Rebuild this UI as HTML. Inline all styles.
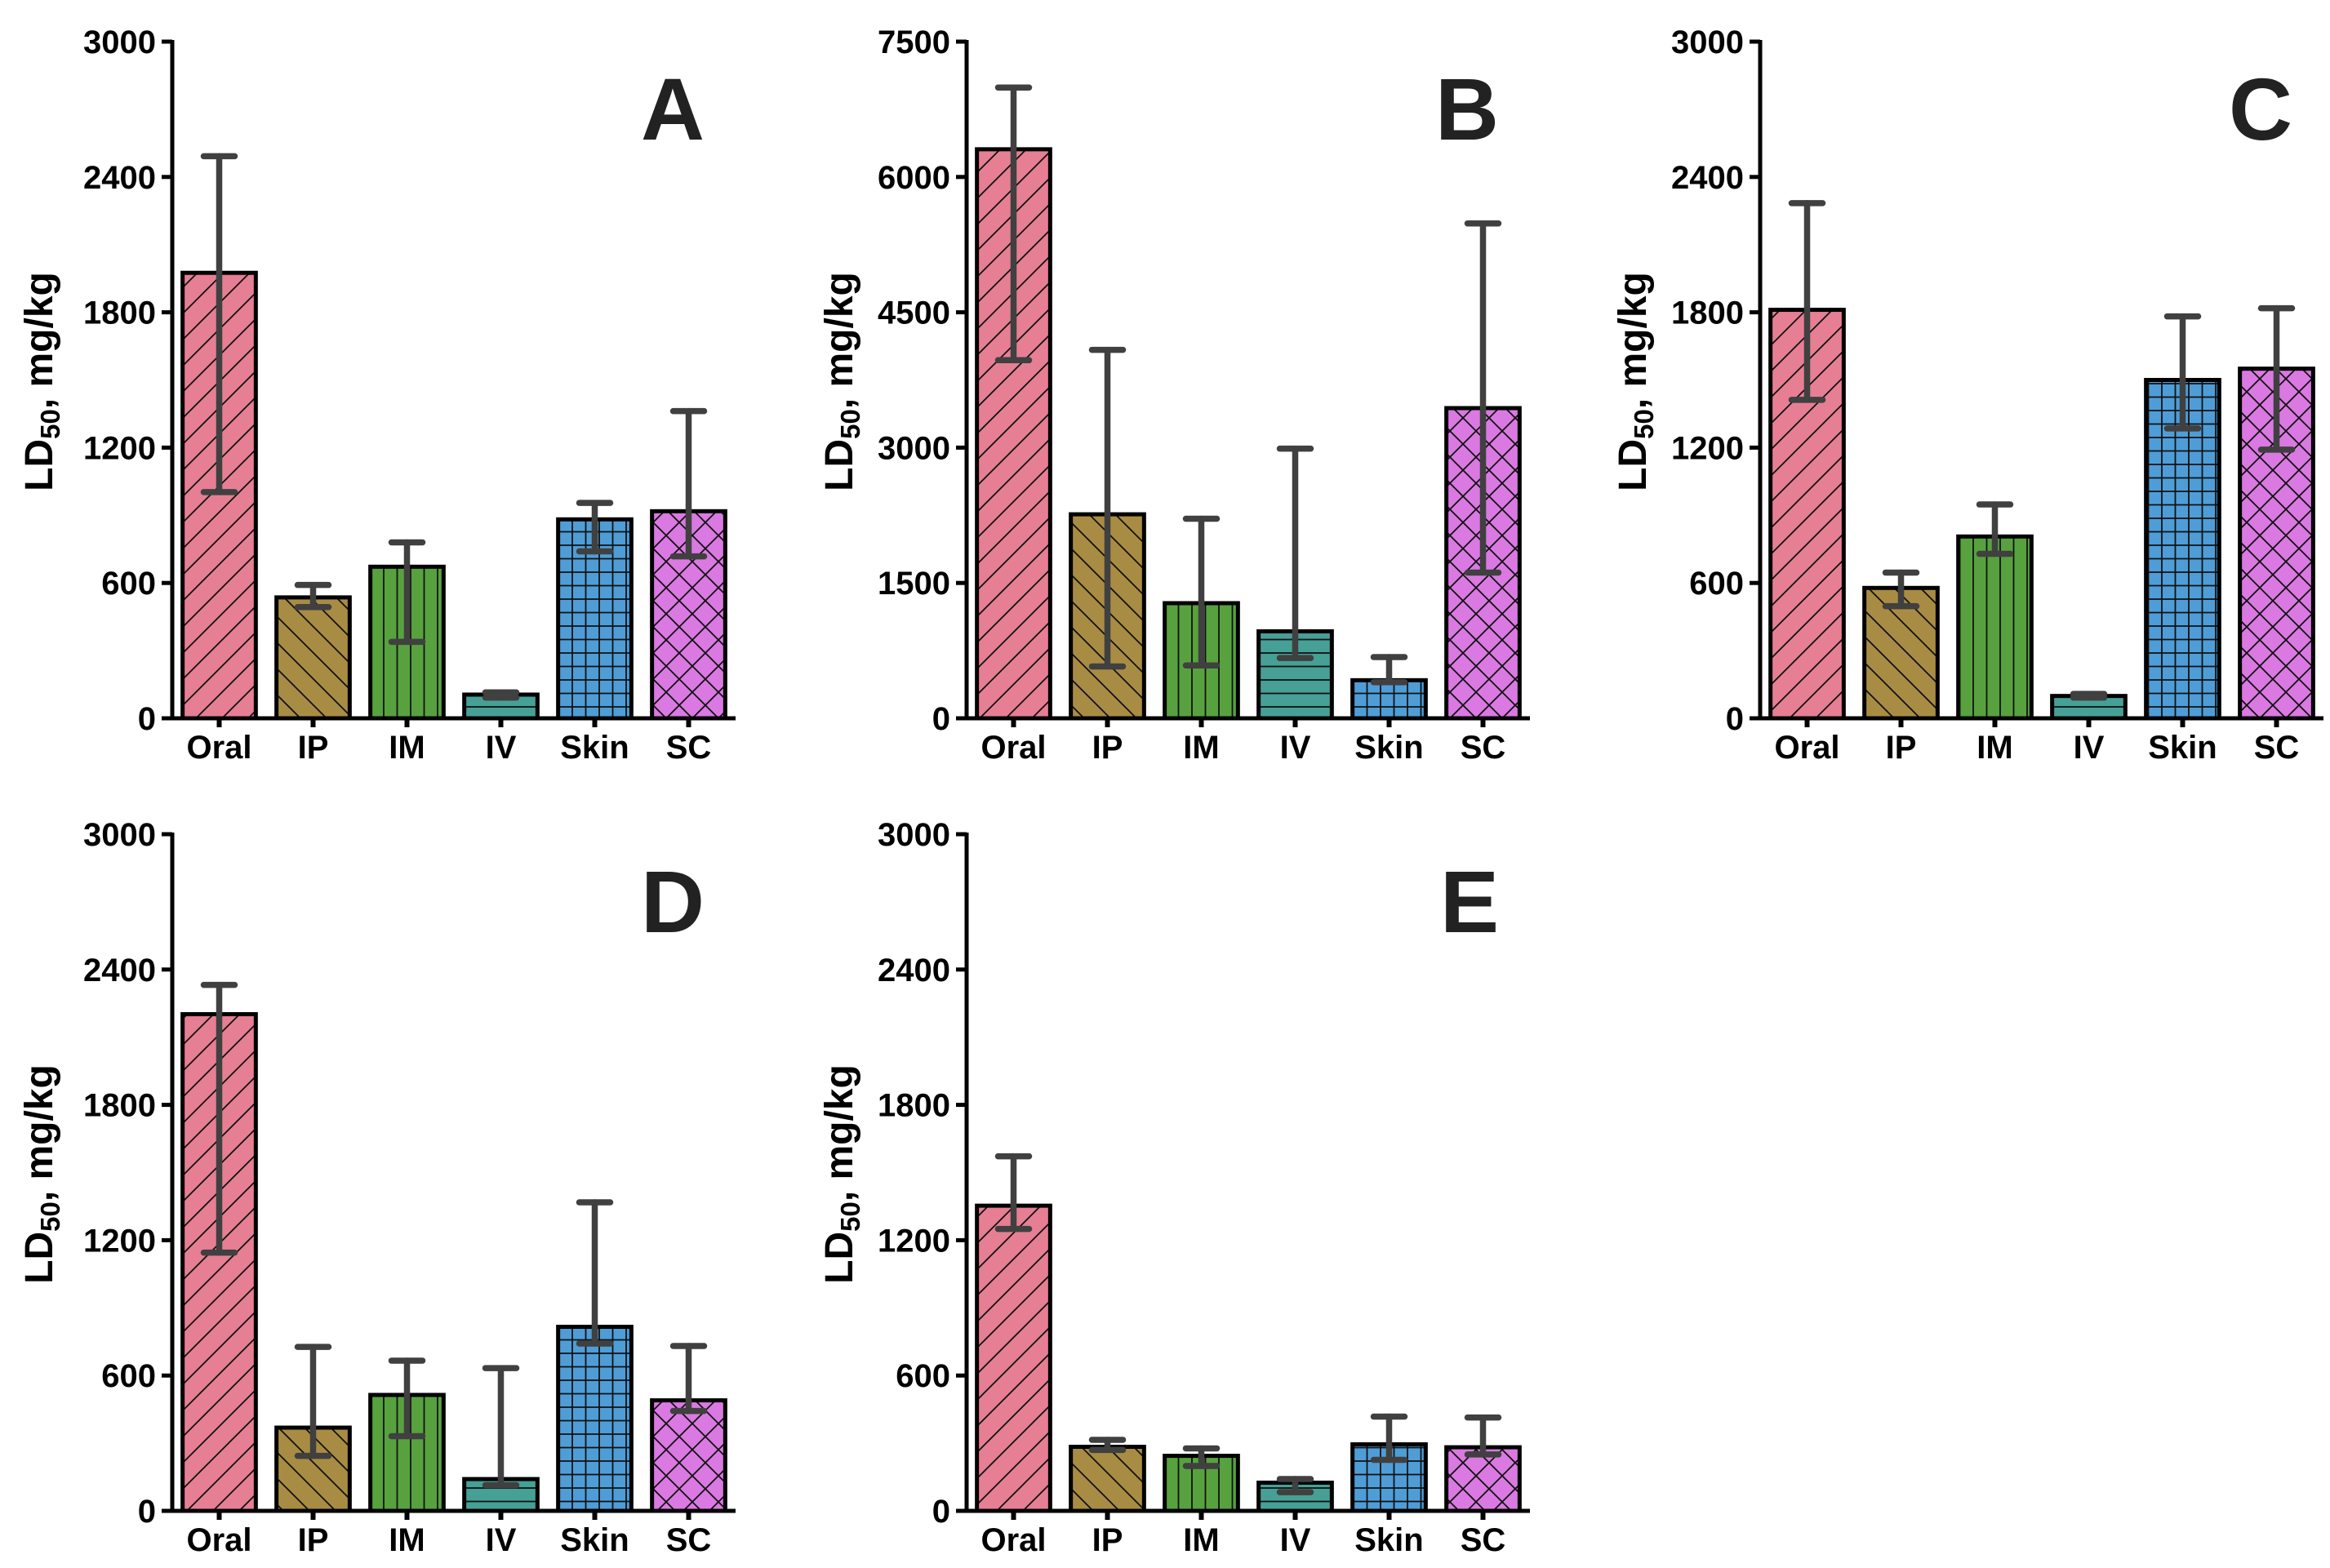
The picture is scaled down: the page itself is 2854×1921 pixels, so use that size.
<!DOCTYPE html>
<html><head><meta charset="utf-8"><style>
html,body{margin:0;padding:0;background:#fff;}
svg{display:block;font-family:"Liberation Sans",Arial,sans-serif;font-weight:bold;}
</style></head><body>
<svg id="fig" width="2854" height="1921" viewBox="0 0 2854 1921" xmlns="http://www.w3.org/2000/svg">
<defs>
<pattern id="p-oral" patternUnits="userSpaceOnUse" width="32" height="32"><rect width="32" height="32" fill="#E67F93"/><path d="M-8,40 L40,-8 M-8,8 L8,-8 M24,40 L40,24" stroke="#111" stroke-width="1.8"/></pattern>
<pattern id="p-ip" patternUnits="userSpaceOnUse" width="32" height="32"><rect width="32" height="32" fill="#A98C43"/><path d="M-8,-8 L40,40 M-8,24 L8,40 M24,-8 L40,8" stroke="#111" stroke-width="1.8"/></pattern>
<pattern id="p-im" patternUnits="userSpaceOnUse" width="16.5" height="16"><rect width="16.5" height="16" fill="#57A23F"/><path d="M8,0 L8,16" stroke="#111" stroke-width="1.8"/></pattern>
<pattern id="p-iv" patternUnits="userSpaceOnUse" width="16" height="16.5"><rect width="16" height="16.5" fill="#46A096"/><path d="M0,8 L16,8" stroke="#111" stroke-width="1.8"/></pattern>
<pattern id="p-skin" patternUnits="userSpaceOnUse" width="16.5" height="16.5"><rect width="16.5" height="16.5" fill="#4F9DD6"/><path d="M8,0 L8,16.5 M0,8 L16.5,8" stroke="#111" stroke-width="1.8"/></pattern>
<pattern id="p-sc" patternUnits="userSpaceOnUse" width="32" height="32"><rect width="32" height="32" fill="#DA79E2"/><path d="M-8,40 L40,-8 M-8,-8 L40,40 M-8,8 L8,-8 M24,40 L40,24 M-8,24 L8,40 M24,-8 L40,8" stroke="#111" stroke-width="1.8"/></pattern>
</defs>
</svg>
<script>
// ---- data ----
const categories = ["Oral","IP","IM","IV","Skin","SC"];
const panelLetters = ["A","B","C","D","E"];
const yMaxA = 3000, yMaxB = 7500, yMaxC = 3000, yMaxD = 3000, yMaxE = 3000;
const yTicksA = [0,600,1200,1800,2400,3000];
const yTicksB = [0,1500,3000,4500,6000,7500];
const yTicksC = [0,600,1200,1800,2400,3000];
const yTicksD = [0,600,1200,1800,2400,3000];
const yTicksE = [0,600,1200,1800,2400,3000];
const meanA = [1975,536,672,105,882,918];
const lowA  = [1003,493,339,92,740,718];
const highA = [2492,591,780,115,955,1362];
const meanB = [6307,2261,1276,964,422,3438];
const lowB  = [3969,575,586,668,400,1615];
const highB = [6991,4084,2212,2989,679,5485];
const meanC = [1811,578,806,99,1500,1550];
const lowC  = [1412,497,729,92,1285,1191];
const highC = [2284,646,948,108,1782,1818];
const meanD = [2202,369,514,141,816,490];
const lowD  = [1145,244,331,114,742,443];
const highD = [2332,727,666,633,1368,731];
const meanE = [1353,284,244,125,295,282];
const lowE  = [1250,270,199,83,226,250];
const highE = [1572,315,277,141,418,414];

const patterns = ["p-oral","p-ip","p-im","p-iv","p-skin","p-sc"];
const NS = "http://www.w3.org/2000/svg";
const svg = document.getElementById("fig");

function mk(tag, attrs, parent){
  const e = document.createElementNS(NS, tag);
  for (const k in attrs) e.setAttribute(k, attrs[k]);
  (parent||svg).appendChild(e);
  return e;
}

const panels = [
  {ax:211, top:51, bot:880, titleOff:-147, ymax:yMaxA, ticks:yTicksA, mean:meanA, low:lowA, high:highA},
  {ax:1184, top:51, bot:880, titleOff:-140, ymax:yMaxB, ticks:yTicksB, mean:meanB, low:lowB, high:highB},
  {ax:2156, top:51, bot:880, titleOff:-140, ymax:yMaxC, ticks:yTicksC, mean:meanC, low:lowC, high:highC},
  {ax:211, top:1022, bot:1851, titleOff:-147, ymax:yMaxD, ticks:yTicksD, mean:meanD, low:lowD, high:highD},
  {ax:1184, top:1022, bot:1851, titleOff:-140, ymax:yMaxE, ticks:yTicksE, mean:meanE, low:lowE, high:highE}
];

panels.forEach((p, pi) => {
  const g = mk("g", {});
  
  
  const W = 690, band = W / categories.length;
  const yS = v => p.bot - (v / p.ymax) * (p.bot - p.top);
  const xC = i => p.ax + (i + 0.5) * band;

  categories.forEach((c, i) => {
    const bw = band * 0.78;
    const r = mk("rect", {x: xC(i) - bw/2, y: yS(p.mean[i]), width: bw, height: p.bot - yS(p.mean[i]),
      fill: "url(#" + patterns[i] + ")", stroke: "#000", "stroke-width": 5}, g);
    
    
  });
  categories.forEach((c, i) => {
    const eg = mk("g", {stroke: "#404040", "stroke-width": 7.5, "stroke-linecap": "round", fill: "none"}, g);
    
    
    const x = xC(i), cw = 19;
    mk("line", {x1: x, x2: x, y1: yS(p.low[i]), y2: yS(p.high[i])}, eg);
    mk("line", {x1: x - cw, x2: x + cw, y1: yS(p.high[i]), y2: yS(p.high[i])}, eg);
    mk("line", {x1: x - cw, x2: x + cw, y1: yS(p.low[i]), y2: yS(p.low[i])}, eg);
  });
  const ya = mk("line", {x1: p.ax, x2: p.ax, y1: p.top - 2, y2: p.bot + 2.5, stroke: "#000", "stroke-width": 5}, g);
  
  
  const xa = mk("line", {x1: p.ax - 2.5, x2: p.ax + W, y1: p.bot, y2: p.bot, stroke: "#000", "stroke-width": 5}, g);
  
  
  p.ticks.forEach(t => {
    mk("line", {x1: p.ax - 13, x2: p.ax, y1: yS(t), y2: yS(t), stroke: "#000", "stroke-width": 5}, g);
    const tl = mk("text", {x: p.ax - 20, y: yS(t) + 14, "text-anchor": "end", "font-size": 40, fill: "#000"}, g);
    tl.textContent = t;
    
    
  });
  categories.forEach((c, i) => {
    mk("line", {x1: xC(i), x2: xC(i), y1: p.bot, y2: p.bot + 11, stroke: "#000", "stroke-width": 6}, g);
    const cl = mk("text", {x: xC(i), y: p.bot + 49, "text-anchor": "middle", "font-size": 40, fill: "#000"}, g);
    cl.textContent = c;
    
    
  });
  const cy = (p.top + p.bot) / 2 + 2;
  const tx = p.ax + p.titleOff;
  const tt = mk("text", {x: tx, y: cy, "text-anchor": "middle", "font-size": 48, fill: "#000",
    transform: "rotate(-90 " + tx + " " + cy + ")"}, g);
  
  
  const t1 = mk("tspan", {}, tt); t1.textContent = "LD";
  const t2 = mk("tspan", {"font-size": 33, dy: 9}, tt); t2.textContent = "50";
  const t3 = mk("tspan", {dy: -9}, tt); t3.textContent = ", mg/kg";
  const pl = mk("text", {x: p.ax + 652, y: p.top + 120, "text-anchor": "end", "font-size": 108, fill: "#222"}, g);
  pl.textContent = panelLetters[pi];
  
  
});
</script>
</body></html>
